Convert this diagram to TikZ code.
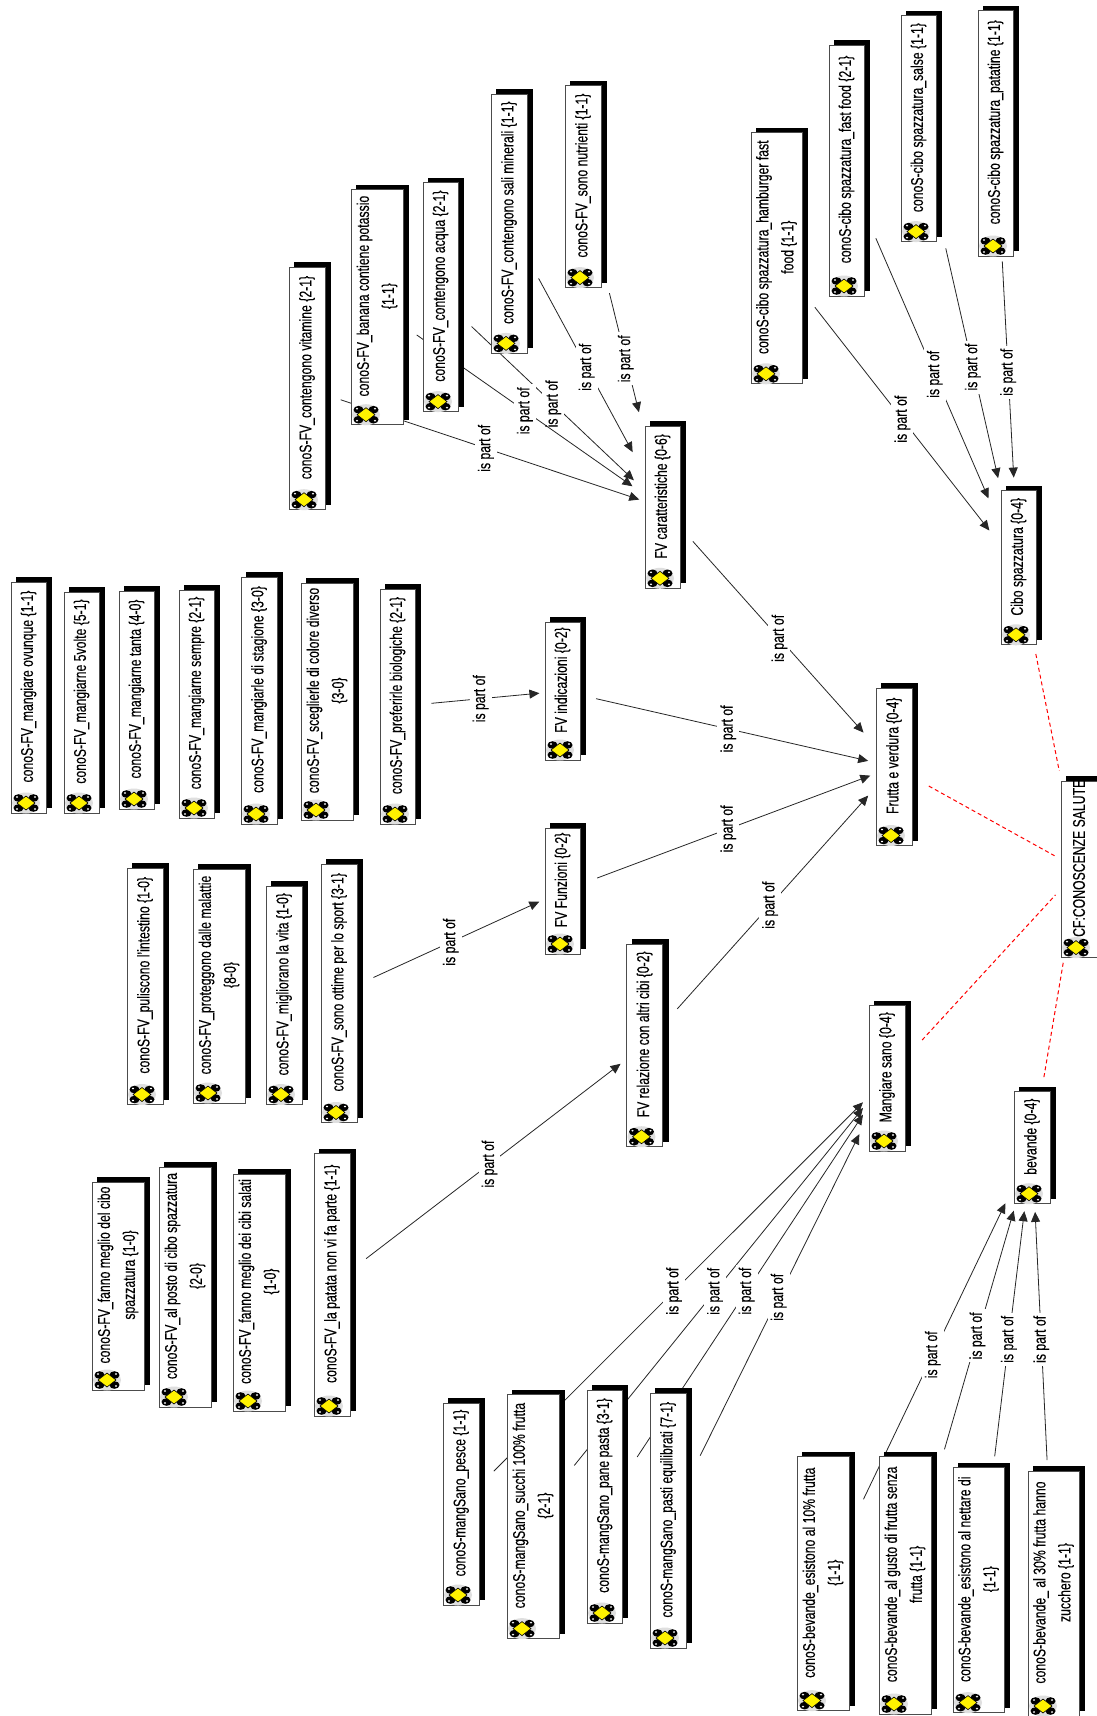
\documentclass[tikz,border=0pt]{standalone}
\usepackage{fontspec}
\setmainfont[FakeStretch=0.72,FakeBold=0.2]{Liberation Sans}
\usetikzlibrary{arrows.meta,backgrounds}
\tikzset{
  x=1pt,y=-1pt,
  boxface/.style={draw=black!70,line width=1pt,fill=white,inner sep=0pt,rectangle},
  boxtext/.style={rotate=90,align=center,inner sep=0pt,font=\fontsize{17}{25}\selectfont,text=black},
  conn/.style={draw=black!85,line width=0.8pt,-{Triangle[length=10pt,width=9pt]}},
  lab/.style={rotate=90,fill=white,inner xsep=3pt,inner ysep=3pt,font=\fontsize{17}{18}\selectfont,text=black},
  redlink/.style={draw=red,line width=1pt,dash pattern=on 4pt off 3pt}
}
\newcommand{\conoicon}[2]{%
  \fill[gray!25] (#1,#2) ellipse (14 and 10.5);
  \foreach \sx in {-1,1}{\foreach \sy in {-1,1}{%
    \fill[black] ({#1+\sx*7.5},{#2+\sy*5}) ellipse (5 and 3.8);
    \fill[white] ({#1+\sx*9},{#2+\sy*6}) ellipse (1.2 and 0.9);
  }}
  \filldraw[fill=yellow,draw=black,line width=.6pt] ({#1-9},#2) -- (#1,{#2-7}) -- ({#1+9},#2) -- (#1,{#2+7}) -- cycle;
}
\newcommand{\cbox}[6]{% name x0 y0 x1 y1 text
  \fill[black] ({#2+5},{#3-5}) rectangle ({#4+6},{#5-5});
  \pgfmathsetmacro{\cbw}{#4-#2}\pgfmathsetmacro{\cbh}{#5-#3}
  \node[boxface,minimum width=\cbw pt,minimum height=\cbh pt] (#1) at ({(#2+#4)/2},{(#3+#5)/2}) {};
  \conoicon{#2+15}{#5-10}
  \node[boxtext] (#1-t) at ({(#2+#4)/2},{(#3+#5-22)/2}) {#6};
}
\newcommand{\lnk}[5]{%
  \draw[conn,shorten <=#3pt,shorten >=#4pt] (#1.center) -- (#2.center) node[pos=#5,lab] {is part of};
}
\newcommand{\rlnk}[4]{%
  \draw[redlink,shorten <=#3pt,shorten >=#4pt] (#1.center) -- (#2.center);
}
\begin{document}
\begin{tikzpicture}
\useasboundingbox (0,0) rectangle (1096,1716);
\begin{pgfonlayer}{background}
\fill[white] (0,0) rectangle (1096,1716);
\end{pgfonlayer}
% top right group
\cbox{hamb}{751}{132.6}{802}{383.8}{conoS-cibo spazzatura\_hamburger fast\\food \{1-1\}}
\cbox{fast}{829}{45}{864}{296}{conoS-cibo spazzatura\_fast food \{2-1\}}
\cbox{salse}{901}{15.6}{936}{241.6}{conoS-cibo spazzatura\_salse \{1-1\}}
\cbox{patat}{978}{10.5}{1013}{256}{conoS-cibo spazzatura\_patatine \{1-1\}}
\cbox{cibo}{1001}{490.7}{1036}{644.8}{Cibo spazzatura \{0-4\}}
% central
\cbox{frutta}{876}{688}{912}{845.5}{Frutta e verdura \{0-4\}}
\cbox{mang}{869}{1005.5}{905}{1151}{Mangiare sano \{0-4\}}
\cbox{cf}{1061}{781}{1097}{957.6}{CF:CONOSCENZE SALUTE}
\cbox{bev}{1014}{1091.6}{1050}{1203.7}{bevande \{0-4\}}
% caratteristiche
\cbox{vit}{289}{267.3}{325}{509.7}{conoS-FV\_contengono vitamine \{2-1\}}
\cbox{pot}{351}{189.5}{403}{424.7}{conoS-FV\_banana contiene potassio\\\{1-1\}}
\cbox{acq}{423}{182.6}{458}{411.6}{conoS-FV\_contengono acqua \{2-1\}}
\cbox{sali}{491}{94}{527}{353.4}{conoS-FV\_contengono sali minerali \{1-1\}}
\cbox{nutr}{565}{85.5}{601}{287.6}{conoS-FV\_sono nutrienti \{1-1\}}
\cbox{carat}{645}{426.4}{680}{588.3}{FV caratteristiche \{0-6\}}
% indicazioni
\cbox{ovu}{11}{582}{46}{813}{conoS-FV\_mangiare ovunque \{1-1\}}
\cbox{volte}{64}{592}{99}{813}{conoS-FV\_mangiarne 5volte \{5-1\}}
\cbox{tanta}{119}{591}{154}{809}{conoS-FV\_mangiarne tanta \{4-0\}}
\cbox{sempre}{179}{590}{214}{818}{conoS-FV\_mangiarne sempre \{2-1\}}
\cbox{stag}{241}{577}{277}{824}{conoS-FV\_mangiarle di stagione \{3-0\}}
\cbox{colore}{301}{583}{353}{820}{conoS-FV\_sceglierle di colore diverso\\\{3-0\}}
\cbox{bio}{380}{589}{415}{824}{conoS-FV\_preferirle biologiche \{2-1\}}
\cbox{ind}{545}{622}{580}{760}{FV indicazioni \{0-2\}}
% funzioni
\cbox{intest}{127}{868}{163}{1104.5}{conoS-FV\_puliscono l'intestino \{1-0\}}
\cbox{mal}{193}{869}{245}{1103}{conoS-FV\_proteggono dalle malattie\\\{8-0\}}
\cbox{vita}{266}{886}{302}{1104.5}{conoS-FV\_migliorano la vita \{1-0\}}
\cbox{sport}{321}{864}{357}{1122.5}{conoS-FV\_sono ottime per lo sport \{3-1\}}
\cbox{funz}{545}{828}{580}{954}{FV Funzioni \{0-2\}}
% relazione
\cbox{cibosp}{92}{1182}{144}{1390}{conoS-FV\_fanno meglio del cibo\\spazzatura \{1-0\}}
\cbox{posto}{159}{1167}{211}{1407}{conoS-FV\_al posto di cibo spazzatura\\\{2-0\}}
\cbox{salati}{233}{1174}{285}{1411}{conoS-FV\_fanno meglio dei cibi salati\\\{1-0\}}
\cbox{patata}{314}{1153.5}{350}{1416}{conoS-FV\_la patata non vi fa parte \{1-1\}}
\cbox{rel}{626.5}{944}{662.7}{1146.7}{FV relazione con altri cibi \{0-2\}}
% mangiare sano
\cbox{pesce}{443}{1403}{479}{1605}{conoS-mangSano\_pesce \{1-1\}}
\cbox{succhi}{507}{1394.5}{559}{1638.6}{conoS-mangSano\_succhi 100\% frutta\\\{2-1\}}
\cbox{pane}{587}{1390}{622}{1623}{conoS-mangSano\_pane pasta \{3-1\}}
\cbox{pasti}{650}{1393.4}{686}{1648}{conoS-mangSano\_pasti equilibrati \{7-1\}}
% bevande
\cbox{bdieci}{797}{1456.7}{849}{1710.6}{conoS-bevande\_esistono al 10\% frutta\\\{1-1\}}
\cbox{gusto}{879}{1456.7}{931}{1714}{conoS-bevande\_al gusto di frutta senza\\frutta \{1-1\}}
\cbox{nett}{953}{1467.8}{1004}{1712.6}{conoS-bevande\_esistono al nettare di\\\{1-1\}}
\cbox{btrenta}{1028}{1471}{1079}{1716}{conoS-bevande\_ al 30\% frutta hanno\\zucchero \{1-1\}}
\begin{pgfonlayer}{background}
\lnk{hamb}{cibo}{62.3}{47.3}{.52}
\lnk{fast}{cibo}{73.8}{75.6}{.513}
\lnk{salse}{cibo}{122.9}{91.9}{.543}
\lnk{patat}{cibo}{128.4}{90.3}{.55}
\lnk{vit}{carat}{35.5}{24.5}{.503}
\lnk{acq}{carat}{42.8}{39.4}{.508}
\lnk{pot}{carat}{48.5}{36.7}{.518}
\lnk{sali}{carat}{62.2}{62.8}{.506}
\lnk{nutr}{carat}{109.8}{98}{.537}
\lnk{carat}{frutta}{45.6}{45.8}{.505}
\lnk{ind}{frutta}{34.4}{26.5}{.5}
\lnk{funz}{frutta}{37}{25.3}{.5}
\lnk{rel}{frutta}{49}{38.7}{.503}
\lnk{bio}{ind}{34}{23.2}{.504}
\lnk{sport}{funz}{37.9}{25.5}{.5}
\lnk{patata}{rel}{43}{30.3}{.504}
\lnk{pesce}{mang}{46.5}{34}{.5}
\lnk{succhi}{mang}{65.7}{38.2}{.514}
\lnk{pane}{mang}{59.3}{43.6}{.503}
\lnk{pasti}{mang}{72.6}{62.4}{.505}
\lnk{bdieci}{bev}{93.6}{61.7}{.525}
\lnk{gusto}{bev}{141.6}{65.6}{.57}
\lnk{nett}{bev}{134.8}{64}{.567}
\lnk{btrenta}{bev}{133.6}{64.3}{.57}
\rlnk{cibo}{cf}{88}{100.4}
\rlnk{frutta}{cf}{39.8}{28}
\rlnk{mang}{cf}{51.9}{34.7}
\rlnk{bev}{cf}{71.5}{94.7}
\end{pgfonlayer}
\end{tikzpicture}
\end{document}
